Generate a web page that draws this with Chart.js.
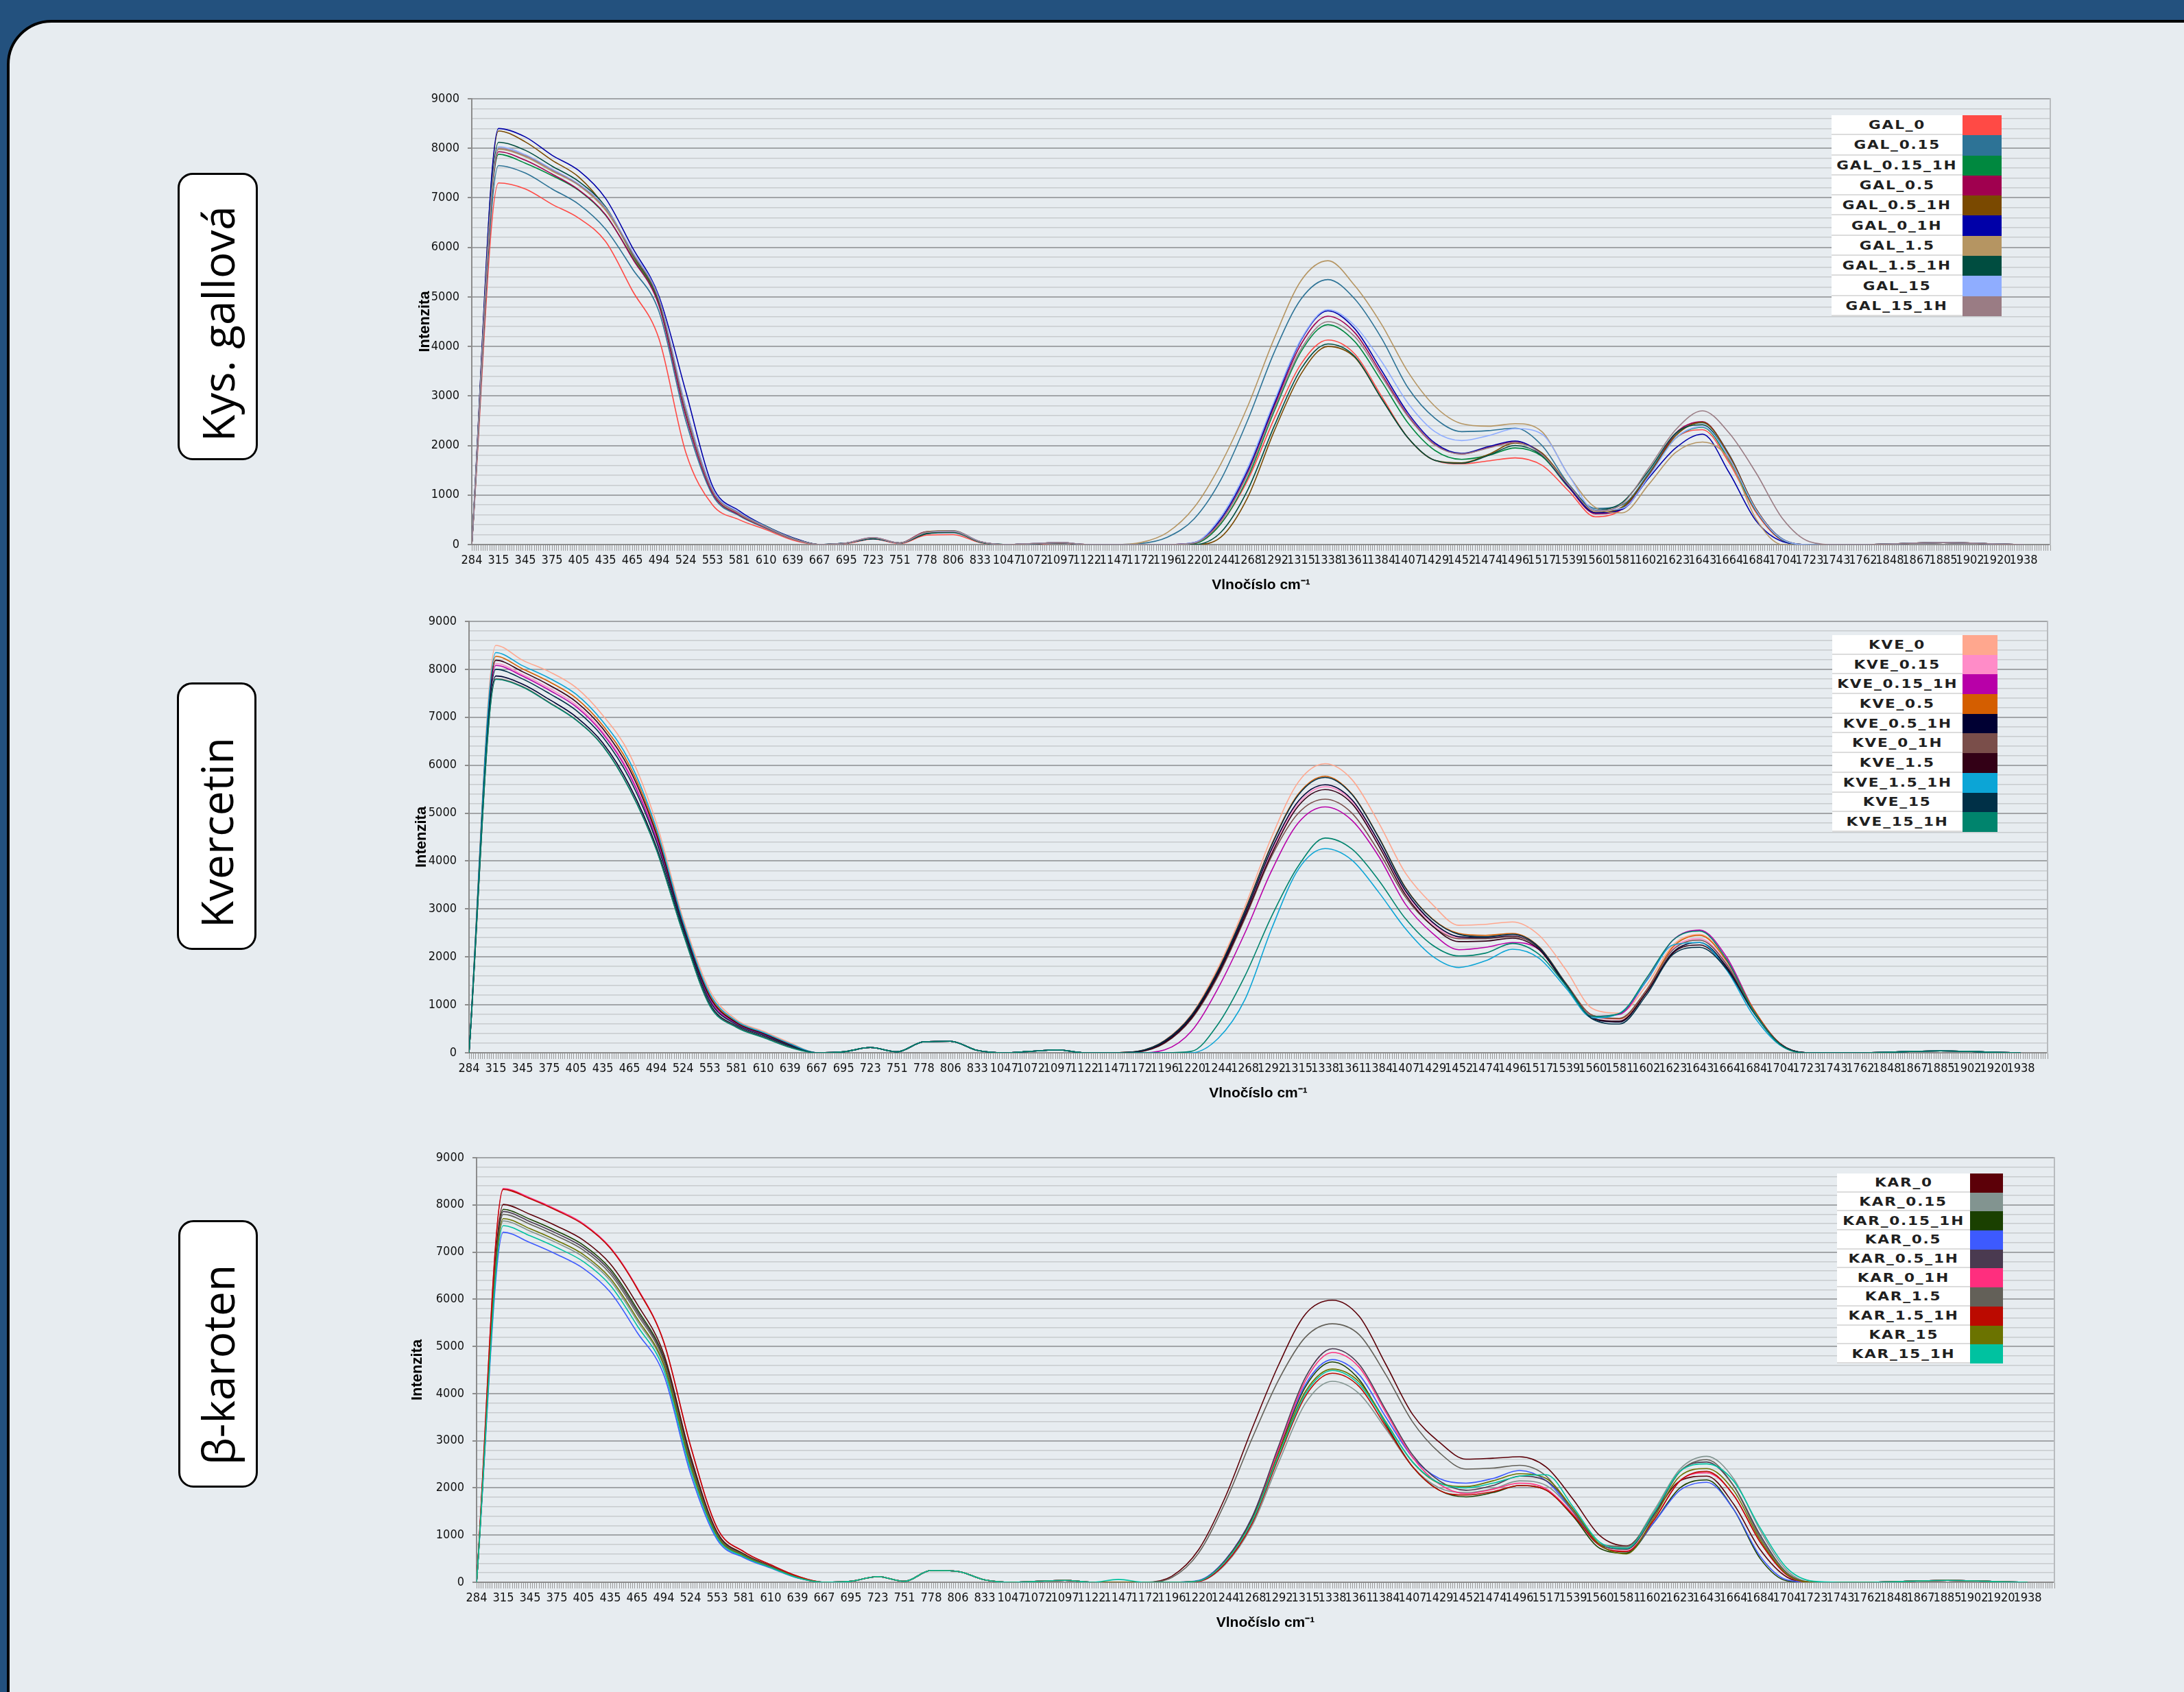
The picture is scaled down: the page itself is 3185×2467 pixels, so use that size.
<!DOCTYPE html>
<html>
<head>
<meta charset="utf-8">
<script src="https://cdn.jsdelivr.net/npm/chart.js@4.4.0/dist/chart.umd.min.js"></script>
<style>
html, body { margin: 0; padding: 0; width: 3185px; height: 2467px; overflow: hidden; background: #23517e; }
#panel { position: absolute; left: 10px; top: 29px; width: 3300px; height: 2600px; background: #e7ecf0;
  border: 4px solid #000; border-radius: 65px; box-sizing: border-box; }
.tag { position: absolute; background: #fff; border: 3.5px solid #000; border-radius: 22px; box-sizing: border-box; }
.tag span { position: absolute; left: 50%; white-space: nowrap; color: #000; line-height: 1;
  font-family: 'Open Sans', 'Noto Sans', sans-serif; font-size: 64px; }
canvas { position: absolute; }
.legend { position: absolute; }
.legend .row { display: flex; }
.legend .txt { background: #fff; border-bottom: 2px solid #dcdcdc; box-sizing: border-box; text-align: center;
  font-family: 'DejaVu Sans', Verdana, sans-serif; font-weight: bold; font-size: 18px; color: #1f1f1f;
  display: flex; align-items: center; justify-content: center; }
.legend .txt span { display: inline-block; transform: scaleX(1.2); letter-spacing: 1.5px; }
</style>
</head>
<body>
<div id="panel"></div>

<div class="tag" style="left:259px;top:252px;width:117px;height:419px;"><span style="top:calc(50% + 10px);transform:translate(-50%,-50%) rotate(-90deg);">Kys. gallová</span></div>
<div class="tag" style="left:258px;top:995px;width:116px;height:390px;"><span style="top:calc(50% + 24px);transform:translate(-50%,-50%) rotate(-90deg);">Kvercetin</span></div>
<div class="tag" style="left:260px;top:1779px;width:116px;height:390px;"><span style="top:calc(50% + 16px);transform:translate(-50%,-50%) rotate(-90deg);">β-karoten</span></div>

<canvas id="chartGal" width="2460" height="760" style="left:560px;top:120px;"></canvas>
<canvas id="chartKve" width="2460" height="739" style="left:556px;top:882px;"></canvas>
<canvas id="chartKar" width="2459" height="729" style="left:567px;top:1664px;"></canvas>

<div class="legend" id="legGal" style="left:2671px;top:168px;"></div>
<div class="legend" id="legKve" style="left:2672px;top:926px;"></div>
<div class="legend" id="legKar" style="left:2679px;top:1711px;"></div>

<script>
// Raman shift labels on the category axis
var xLabels = [284, 315, 345, 375, 405, 435, 465, 494, 524, 553, 581, 610, 639, 667, 695, 723, 751, 778, 806, 833,
	1047, 1072, 1097, 1122, 1147, 1172, 1196, 1220, 1244, 1268, 1292, 1315, 1338, 1361, 1384, 1407, 1429, 1452, 1474, 1496,
	1517, 1539, 1560, 1581, 1602, 1623, 1643, 1664, 1684, 1704, 1723, 1743, 1762, 1848, 1867, 1885, 1902, 1920, 1938];

// --- Kys. gallova
var galNames = ["GAL_0", "GAL_0.15", "GAL_0.15_1H", "GAL_0.5", "GAL_0.5_1H", "GAL_0_1H", "GAL_1.5", "GAL_1.5_1H", "GAL_15", "GAL_15_1H"];
var galColors = ["#ff4a45", "#2d7396", "#00883f", "#a0004f", "#7a4900", "#0000a8", "#b59562", "#004d40", "#8fadff", "#9a7c84"];

var gal_0 = [0,7300,7180,6870,6590,6120,5130,4150,1860,800,500,300,90, 0,20,110,20,190,200,40,0,10,30,0,0,
	0,0,20,430,1300,2550,3650,4130,3850,3000,2150,1700,1630,1690,1750,1600,1080,560,720,1400,2150,2320,1650,650,80,0, 0,0,10,30,40,30,10,0];
var gal_015 = [0,7650,7500,7180,6870,6370,5570,4700,2500,1000,580,330,110, 0,30,130,30,220,240,50,0,15,35,0,0,
	20,150,520,1310,2510,3890,4960,5350,4960,4170,3160,2550,2280,2300,2350,2000,1220,730,800,1450,2230,2460,1820,710,110,0, 0,0,10,30,40,30,10,0];
var gal_015_1h = [0,7880,7700,7450,7150,6650,5800,4850,2650,1050,600,340,120, 0,30,120,30,230,250,50,0,15,35,0,0,
	0,0,20,420,1350,2700,3900,4440,4100,3300,2450,1900,1720,1800,1950,1780,1150,640,740,1400,2150,2370,1700,680,90,0, 0,0,10,30,40,30,10,0];
var gal_05 = [0,7930,7760,7480,7160,6660,5780,4820,2600,1040,600,340,120, 0,30,140,30,260,260,60,0,15,35,0,0,
	0,0,30,480,1450,2800,4050,4610,4280,3450,2600,2020,1830,1960,2080,1820,1160,620,720,1390,2250,2480,1800,720,100,0, 0,0,10,30,40,30,10,0];
var gal_05_1h = [0,8350,8130,7760,7420,6800,5850,4890,2750,1100,640,360,130, 0,30,130,30,260,280,60,0,20,40,0,0,
	0,0,0,150,950,2300,3450,4000,3780,2950,2150,1700,1650,1820,2050,1850,1200,650,760,1420,2200,2470,1800,720,100,0, 0,0,10,30,40,30,10,0];
var gal_0_1h = [0,8400,8230,7860,7550,6990,6000,5010,3090,1180,680,370,140, 0,30,120,30,240,270,60,0,20,40,0,0,
	0,0,40,520,1500,2850,4130,4720,4360,3520,2650,2050,1840,1980,2090,1820,1170,640,710,1350,1950,2230,1450,480,60,0, 0,0,10,30,40,30,10,0];
var gal_15 = [0,7980,7830,7540,7250,6750,5870,4920,2700,1080,620,350,120, 0,30,130,30,240,270,60,0,20,40,0,0,
	40,245,750,1630,2790,4170,5330,5730,5230,4450,3480,2790,2440,2390,2440,2280,1400,750,640,1220,1860,2070,1720,520,0,0, 0,0,10,30,40,30,10,0];
var gal_15_1h = [0,8120,7960,7640,7330,6820,5880,4900,2720,1100,640,370,130, 0,30,120,30,220,250,50,0,15,35,0,0,
	0,0,0,250,1100,2400,3550,4050,3800,2950,2150,1700,1640,1800,2000,1800,1200,700,850,1500,2250,2420,1750,700,90,0, 0,0,10,30,40,30,10,0];
var gal_150 = [0,8030,7870,7580,7280,6800,5920,4960,2780,1120,650,360,125, 0,30,140,30,250,270,60,0,20,40,0,0,
	0,0,40,560,1550,2900,4150,4740,4420,3700,2850,2280,2100,2200,2340,2230,1400,690,730,1380,2150,2380,1750,700,100,0, 0,0,10,30,40,30,10,0];
var gal_150_1h = [0,8000,7850,7560,7260,6780,5890,4930,2720,1090,630,350,120, 0,30,140,30,250,260,60,0,20,40,0,0,
	0,0,30,470,1420,2750,3950,4500,4200,3400,2580,2010,1830,1950,2060,1820,1200,680,820,1550,2320,2700,2250,1450,520,60, 0,0,10,30,40,30,10,0];

// --- Kvercetin
var kveNames = ["KVE_0", "KVE_0.15", "KVE_0.15_1H", "KVE_0.5", "KVE_0.5_1H", "KVE_0_1H", "KVE_1.5", "KVE_1.5_1H", "KVE_15", "KVE_15_1H"];
var kveColors = ["#ffa78e", "#ff8cc8", "#b800a8", "#d45e00", "#000033", "#7a4e4a", "#330016", "#0ca5d6", "#003047", "#00846d"];

var kve_0 = [0,8500,8190,7950,7620,7040,6230,4800,2800,1300,690,450,210, 0,20,110,20,230,240,50,0,30,60,0,0,
	30,260,800,1780,3050,4500,5650,6030,5700,4800,3750,3100,2660,2680,2730,2450,1730,920,830,1400,2250,2470,1950,920,190,0, 0,0,10,30,40,30,10,0];
var kve_015 = [0,8120,7890,7605,7260,6700,5840,4500,2640,1130,610,385,160, 0,20,110,20,230,240,50,0,30,60,0,0,
	20,220,730,1650,2870,4200,5200,5550,5250,4380,3350,2700,2400,2400,2440,2190,1430,760,700,1300,2180,2380,1870,900,190,0, 0,0,10,30,40,30,10,0];
var kve_015_1h = [0,8080,7860,7565,7220,6660,5800,4470,2620,1115,600,380,155, 0,20,110,20,230,240,50,0,30,60,0,0,
	0,60,450,1350,2500,3800,4800,5130,4850,4100,3100,2500,2150,2200,2300,2150,1420,760,800,1500,2350,2560,2000,920,190,0, 0,0,10,30,40,30,10,0];
var kve_05 = [0,8270,8010,7740,7400,6830,5990,4620,2700,1200,640,410,180, 0,20,110,20,230,240,50,0,30,60,0,0,
	30,250,780,1730,2970,4350,5400,5770,5400,4500,3450,2800,2490,2450,2490,2210,1450,780,710,1300,2210,2450,1920,920,200,0, 0,0,10,30,40,30,10,0];
var kve_05_1h = [0,7860,7690,7370,7010,6465,5575,4300,2530,1020,555,340,130, 0,20,110,20,230,240,50,0,30,60,0,0,
	25,230,750,1680,2900,4250,5250,5590,5280,4400,3380,2730,2420,2400,2430,2180,1420,720,640,1250,2100,2300,1800,880,190,0, 0,0,10,30,40,30,10,0];
var kve_0_1h = [0,7800,7640,7310,6950,6410,5510,4250,2500,990,540,330,120, 0,20,110,20,230,240,50,0,30,60,0,0,
	20,200,700,1600,2800,4100,5000,5290,5000,4200,3250,2650,2380,2380,2420,2200,1450,780,720,1300,2150,2350,1850,880,190,0, 0,0,10,30,40,30,10,0];
var kve_15 = [0,8190,7950,7670,7325,6765,5915,4560,2670,1165,625,400,170, 0,20,110,20,230,240,50,0,30,60,0,0,
	20,210,720,1640,2840,4150,5150,5490,5200,4320,3300,2650,2320,2330,2390,2150,1400,720,660,1250,2080,2250,1770,860,180,0, 0,0,10,30,40,30,10,0];
var kve_15_1h = [0,8350,8075,7815,7480,6910,6080,4685,2735,1235,660,425,190, 0,20,110,20,230,240,50,0,30,60,0,0,
	0,0,0,300,1110,2590,3830,4260,4020,3350,2590,2020,1780,1920,2160,1970,1350,730,825,1490,2250,2300,1730,780,160,0, 0,0,10,30,40,30,10,0];
var kve_150 = [0,8000,7800,7495,7145,6590,5720,4410,2590,1080,585,365,145, 0,20,110,20,230,240,50,0,30,60,0,0,
	30,250,780,1720,2960,4330,5380,5745,5390,4490,3440,2790,2470,2420,2470,2200,1430,700,600,1200,2050,2200,1750,850,180,0, 0,0,10,30,40,30,10,0];
var kve_150_1h = [0,7790,7630,7300,6940,6400,5500,4240,2490,980,530,320,110, 0,20,110,20,230,240,50,0,30,60,0,0,
	0,0,30,600,1600,2850,3900,4480,4250,3600,2800,2250,2020,2080,2280,2050,1400,760,820,1550,2350,2540,1950,880,170,0, 0,0,10,30,40,30,10,0];

// --- beta-karoten
var karNames = ["KAR_0", "KAR_0.15", "KAR_0.15_1H", "KAR_0.5", "KAR_0.5_1H", "KAR_0_1H", "KAR_1.5", "KAR_1.5_1H", "KAR_15", "KAR_15_1H"];
var karColors = ["#5c0008", "#829490", "#1a4000", "#3d5afe", "#4a3a50", "#ff2e7e", "#636058", "#bb0a00", "#6b7300", "#00c2a0"];

var kar_0 = [0,8010,7800,7550,7250,6750,5900,4840,2680,1060,600,345,115, 0,20,120,20,250,230,50,0,20,40,0,0,
	0,130,690,1810,3260,4620,5690,5980,5640,4620,3560,2970,2610,2630,2660,2440,1760,990,770,1420,2150,2250,1660,690,110,0, 0,0,10,30,40,30,10,0];
var kar_015 = [0,7660,7445,7195,6895,6395,5545,4580,2455,965,555,320,100, 0,20,120,20,250,230,50,0,20,40,0,0,
	0,0,20,380,1200,2550,3800,4260,4000,3250,2450,2000,1900,1980,2150,2050,1500,820,740,1500,2400,2670,2200,1100,250,0, 0,0,10,30,40,30,10,0];
var kar_015_1h = [0,7905,7695,7445,7145,6645,5795,4765,2610,1030,590,335,110, 0,20,120,20,250,230,50,0,20,40,0,0,
	0,0,30,460,1350,2800,4150,4670,4300,3350,2450,1950,1810,1900,2050,1950,1400,720,620,1250,2000,2170,1550,500,30,0, 0,0,10,30,40,30,10,0];
var kar_05 = [0,7420,7200,6950,6650,6150,5300,4400,2300,900,520,300,90, 0,20,120,20,250,230,50,0,20,40,0,0,
	0,0,40,480,1380,2850,4200,4720,4400,3500,2650,2200,2100,2200,2370,2150,1500,780,650,1250,1950,2120,1550,550,50,0, 0,0,10,30,40,30,10,0];
var kar_05_1h = [0,7860,7645,7395,7095,6595,5745,4730,2580,1020,580,335,110, 0,20,120,20,250,230,50,0,20,40,0,0,
	0,0,30,470,1380,2900,4350,4950,4620,3650,2700,2150,1950,2050,2250,2150,1550,800,700,1400,2350,2550,2050,1000,200,0, 0,0,10,30,40,30,10,0];
var kar_0_1h = [0,8350,8150,7900,7600,7100,6250,5100,2900,1150,650,370,130, 0,20,120,20,250,230,50,0,20,40,0,0,
	0,0,20,420,1300,2830,4280,4870,4560,3600,2650,2080,1880,1970,2100,1980,1450,780,660,1300,2150,2320,1850,850,150,0, 0,0,10,30,40,30,10,0];
var kar_15 = [0,7800,7590,7340,7040,6540,5690,4690,2545,1005,575,330,105, 0,20,120,20,250,230,50,0,20,40,0,0,
	0,100,620,1700,3050,4300,5200,5480,5250,4400,3400,2750,2400,2420,2480,2250,1500,800,760,1450,2350,2600,2050,950,200,0, 0,0,10,30,40,30,10,0];
var kar_15_1h = [0,8330,8130,7880,7580,7080,6230,5090,2890,1145,645,370,130, 0,20,120,20,250,230,50,0,20,40,0,0,
	0,0,20,400,1250,2650,3950,4430,4150,3300,2450,1950,1850,1920,2050,1950,1420,780,650,1300,2150,2350,1850,850,160,0, 0,0,10,30,40,30,10,0];
var kar_150 = [0,7710,7495,7245,6945,6445,5595,4615,2485,980,560,320,100, 0,20,120,20,250,230,50,0,20,40,0,0,
	0,0,30,450,1320,2750,4050,4520,4250,3400,2550,2100,2030,2150,2300,2200,1550,800,600,1350,2250,2410,1950,900,170,0, 0,0,10,30,40,30,10,0];
var kar_150_1h = [0,7560,7345,7095,6795,6295,5445,4505,2390,940,540,310,95, 0,20,120,20,250,230,50,0,20,40,0,60,
	0,0,30,440,1300,2700,4000,4490,4200,3380,2550,2100,2000,2100,2250,2280,1600,850,720,1450,2350,2510,2150,1150,300,20, 0,0,10,30,40,30,10,0];

var galSeries = [gal_0, gal_015, gal_015_1h, gal_05, gal_05_1h, gal_0_1h, gal_15, gal_15_1h, gal_150, gal_150_1h];
var kveSeries = [kve_0, kve_015, kve_015_1h, kve_05, kve_05_1h, kve_0_1h, kve_15, kve_15_1h, kve_150, kve_150_1h];
var karSeries = [kar_0, kar_015, kar_015_1h, kar_05, kar_05_1h, kar_0_1h, kar_15, kar_15_1h, kar_150, kar_150_1h];

var SUB = 12; // measured points between two labelled ticks
var tickFont = "'Liberation Sans Narrow', 'Arial Narrow', 'DejaVu Sans Condensed', sans-serif";

function init_spectrum(id, names, colors, series, yTitlePad){

	var datasets = series.map(function(vals, k){
		return {
			label: names[k],
			data: vals.map(function(v, i){ return {x: i * SUB, y: v}; }),
			borderColor: colors[k],
			backgroundColor: colors[k],
			borderWidth: 1.6,
			pointRadius: 0,
			cubicInterpolationMode: 'monotone',
			order: -k
		};
	});

	var chart_line_settings = {
		type: 'line',
		data: { datasets: datasets },
		options: {
			animation: false,
			responsive: false,
			layout: { padding: { top: 24, left: 0, right: 0, bottom: 0 } },
			plugins: { legend: { display: false }, tooltip: { enabled: false } },
			scales: {
				x: {
					type: 'linear',
					min: 0,
					max: xLabels.length * SUB,
					afterFit: function(s){ s.height = 86; },
					ticks: {
						stepSize: 1,
						autoSkip: false,
						maxRotation: 0,
						minRotation: 0,
						padding: 4,
						color: '#111',
						font: { family: tickFont, size: 18 },
						callback: function(v){
							var n = Math.round(v);
							if (n % SUB !== 0) return '';
							var k = n / SUB;
							return k < xLabels.length ? String(xLabels[k]) : '';
						}
					},
					grid: { drawOnChartArea: false, drawTicks: true, tickLength: 9, color: '#9a9a9a', lineWidth: 1 },
					border: { color: '#8c8c8c', width: 2 },
					title: {
						display: true,
						text: 'Vlnočíslo cm⁻¹',
						color: '#000',
						font: { family: "'Liberation Sans', Arial, sans-serif", weight: 'bold', size: 21 },
						padding: { top: 4, bottom: 14 }
					}
				},
				y: {
					min: 0,
					max: 9000,
					afterFit: function(s){ s.width = 128; },
					ticks: {
						stepSize: 200,
						autoSkip: false,
						padding: 12,
						color: '#111',
						font: { family: tickFont, size: 18 },
						callback: function(v){ return v % 1000 === 0 ? v : ''; }
					},
					grid: {
						color: function(c){ return c.tick && c.tick.value % 1000 === 0 ? '#a2a5a8' : '#c8cbce'; },
						lineWidth: function(c){ return c.tick && c.tick.value % 1000 === 0 ? 2 : 1.6; },
						tickColor: function(c){ return c.tick && c.tick.value % 1000 === 0 ? '#8c8c8c' : 'rgba(0,0,0,0)'; },
						tickLength: 6
					},
					border: { color: '#8c8c8c', width: 2 },
					title: {
						display: true,
						text: 'Intenzita',
						color: '#000',
						font: { family: "'Liberation Sans', Arial, sans-serif", weight: 'bold', size: 22 },
						padding: { top: yTitlePad, bottom: 0 }
					}
				},
				y2: {
					position: 'right',
					min: 0,
					max: 9000,
					afterFit: function(s){ s.width = 30; },
					ticks: { display: false },
					grid: { drawOnChartArea: false, drawTicks: false },
					border: { color: '#b8bbbe', width: 2 }
				}
			}
		}
	};

	return new Chart(document.getElementById(id), chart_line_settings);
}

function init_legend(id, chart, textW, swW, rowH){
	var box = document.getElementById(id);
	chart.data.datasets.forEach(function(ds){
		var row = document.createElement('div');
		row.className = 'row';
		row.style.height = rowH + 'px';
		var txt = document.createElement('div');
		txt.className = 'txt';
		txt.style.width = textW + 'px';
		var span = document.createElement('span');
		span.textContent = ds.label;
		txt.appendChild(span);
		var sw = document.createElement('div');
		sw.style.width = swW + 'px';
		sw.style.background = ds.borderColor;
		row.appendChild(txt);
		row.appendChild(sw);
		box.appendChild(row);
	});
}

var chartGal = init_spectrum('chartGal', galNames, galColors, galSeries, 47);
var chartKve = init_spectrum('chartKve', kveNames, kveColors, kveSeries, 46);
var chartKar = init_spectrum('chartKar', karNames, karColors, karSeries, 29);

init_legend('legGal', chartGal, 191, 57, 29.3);
init_legend('legKve', chartKve, 190, 51, 28.7);
init_legend('legKar', chartKar, 194, 48, 27.7);
</script>
</body>
</html>
